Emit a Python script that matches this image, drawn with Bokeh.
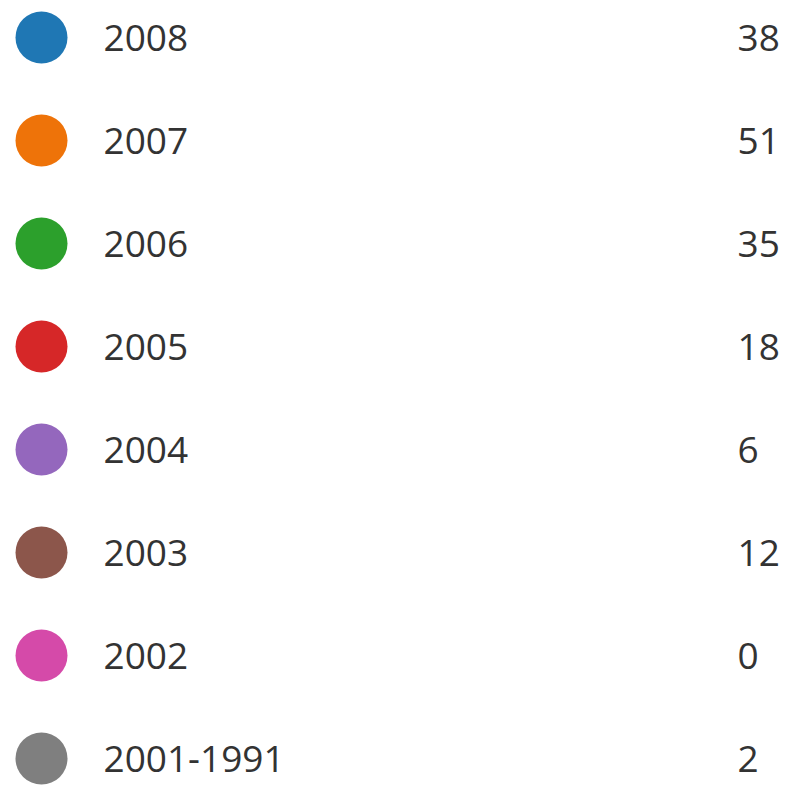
from bokeh.plotting import figure
from bokeh.models import Range1d, ColumnDataSource
from bokeh.core.properties import value
from bokeh.embed import file_html
from bokeh.resources import INLINE

labels = ["2008", "2007", "2006", "2005", "2004", "2003", "2002", "2001-1991"]
counts = [38, 51, 35, 18, 6, 12, 0, 2]
colors = ["#1f77b4", "#ee7309", "#2ca02c", "#d62728", "#9467bd", "#8c564b", "#d54aa9", "#7f7f7f"]

# page window 788x795 with an 8px body margin -> 780x787 available
W, H = 780, 787
row_px = 103
top_px = 37

rows = list(range(len(labels)))
src = ColumnDataSource(dict(
    row=rows,
    label=labels,
    count=[str(c) for c in counts],
    color=colors,
    dot_x=[41] * len(rows),
    label_x=[103] * len(rows),
    count_x=[737] * len(rows),
))

p = figure(width=W, height=H, output_backend="svg", toolbar_location=None,
           x_range=Range1d(0, W),
           y_range=Range1d((H - top_px) / row_px, -top_px / row_px),
           min_border=0, outline_line_color=None)
p.axis.visible = False
p.grid.visible = False
p.background_fill_color = "white"
p.border_fill_color = "white"

p.scatter(x="dot_x", y="row", size=52, fill_color="color", line_color=None, source=src)
p.text(x="label_x", y="row", text="label", text_font=value("Open Sans"),
       text_font_size="37px", text_color="#333333", text_baseline="middle",
       text_align="left", source=src)
p.text(x="count_x", y="row", text="count", text_font=value("Open Sans"),
       text_font_size="37px", text_color="#333333", text_baseline="middle",
       text_align="left", source=src)

open("out.html", "w").write(file_html(p, INLINE))
